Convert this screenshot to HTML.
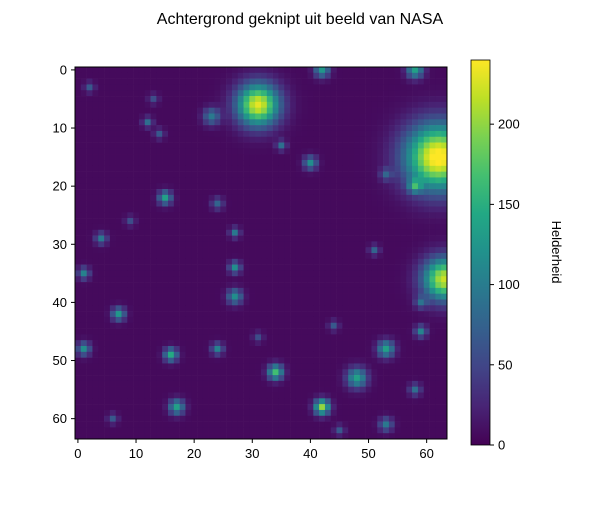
<!DOCTYPE html>
<html><head><meta charset="utf-8"><style>
body{margin:0;background:#fff;font-family:"Liberation Sans",sans-serif;}
svg text{font-family:"Liberation Sans",sans-serif;}
</style></head><body>
<svg id="chart" width="600" height="500">
<text x="300" y="24" text-anchor="middle" font-size="16">Achtergrond geknipt uit beeld van NASA</text>
<g id="cells"></g>
<rect x="75" y="67" width="372" height="372" fill="none" stroke="#000" stroke-width="1"/>
<g id="axes"></g>
<defs><linearGradient id="vir" x1="0" y1="1" x2="0" y2="0"></linearGradient></defs>
<rect x="471" y="60" width="19" height="385" fill="url(#vir)" stroke="#000" stroke-width="0.8"/>
<text transform="translate(552,252) rotate(90)" text-anchor="middle" font-size="13">Helderheid</text>
</svg>
<script>
const gridSize = 64;
const background = 6;
const maxValue = 240;
// sources: [row, col, peak, sigma]
const srcRows  = [6, 15, 36, 58, 52, 49, 48, 53, 42, 58, 22, 16, 0, 0, 34, 48, 35, 29, 9, 23, 28, 45, 48, 39, 61, 8, 3, 13, 11, 20, 31, 55, 60, 44, 26, 18, 40, 5, 62, 46];
const srcCols  = [31, 62, 63, 42, 34, 16, 53, 48, 7, 17, 15, 40, 42, 58, 27, 1, 1, 4, 12, 24, 27, 59, 24, 27, 53, 23, 2, 35, 14, 58, 51, 58, 6, 44, 9, 53, 59, 13, 45, 31];
const srcPeaks = [225, 245, 215, 195, 160, 140, 130, 130, 120, 130, 130, 110, 120, 130, 110, 110, 100, 90, 80, 70, 90, 100, 100, 110, 90, 90, 60, 80, 60, 100, 70, 80, 60, 60, 50, 60, 70, 50, 60, 50];
const srcSigma = [2.5, 3.9, 2.5, 0.9, 0.9, 0.8, 1.0, 1.2, 0.8, 0.9, 0.8, 0.8, 0.9, 1.0, 0.7, 0.8, 0.7, 0.7, 0.6, 0.7, 0.6, 0.7, 0.7, 0.9, 0.8, 1.0, 0.6, 0.6, 0.6, 0.8, 0.6, 0.7, 0.6, 0.6, 0.6, 0.7, 0.7, 0.6, 0.6, 0.6];
const xTicks = [0, 10, 20, 30, 40, 50, 60];
const yTicks = [0, 10, 20, 30, 40, 50, 60];
const cbTicks = [0, 50, 100, 150, 200];

const vStops = ["#440154","#482475","#414487","#355f8d","#2a788e","#21918c","#22a884","#44bf70","#7ad151","#bddf26","#fde725"];
function hex(c){return [1,3,5].map(i=>parseInt(c.substr(i,2),16));}
function viridis(t){t=Math.max(0,Math.min(1,t));const p=t*10,i=Math.min(9,Math.floor(p)),f=p-i;const a=hex(vStops[i]),b=hex(vStops[i+1]);return "rgb("+a.map((v,k)=>Math.round(v+(b[k]-v)*f)).join(",")+")";}

const X0=75,Y0=67,S=372/gridSize;
const xs=v=>X0+(v+0.5)*S, ys=v=>Y0+(v+0.5)*S;
const NS="http://www.w3.org/2000/svg";
const cells=document.getElementById('cells');
for(let r=0;r<gridSize;r++)for(let c=0;c<gridSize;c++){
  let v=background;
  for(let k=0;k<srcRows.length;k++){const d2=(r-srcRows[k])**2+(c-srcCols[k])**2;v+=srcPeaks[k]*Math.exp(-d2/(2*srcSigma[k]**2));}
  v=Math.min(maxValue,v);
  const el=document.createElementNS(NS,'rect');
  el.setAttribute('x',X0+c*S);el.setAttribute('y',Y0+r*S);el.setAttribute('width',S+0.3);el.setAttribute('height',S+0.3);
  el.setAttribute('fill',viridis(v/maxValue));
  
  
  cells.appendChild(el);
}
const ax=document.getElementById('axes');
function add(tag,attrs,txt){const e=document.createElementNS(NS,tag);for(const k in attrs)e.setAttribute(k,attrs[k]);if(txt!==undefined)e.textContent=txt;ax.appendChild(e);return e;}
xTicks.forEach(t=>{
  const l=add('line',{x1:xs(t),x2:xs(t),y1:439,y2:443,stroke:'#000'});
  
  
  const tx=add('text',{x:xs(t),y:458,'text-anchor':'middle','font-size':13},t);
  
  
});
yTicks.forEach(t=>{
  const l=add('line',{x1:71,x2:75,y1:ys(t),y2:ys(t),stroke:'#000'});
  
  
  const tx=add('text',{x:67,y:ys(t)+4.5,'text-anchor':'end','font-size':13},t);
  
  
});
const cbY=v=>445-v/maxValue*385;
cbTicks.forEach(t=>{
  const l=add('line',{x1:490,x2:494,y1:cbY(t),y2:cbY(t),stroke:'#000'});
  
  
  const tx=add('text',{x:498,y:cbY(t)+4.5,'font-size':13},t);
  
  
});
const g=document.getElementById('vir');
vStops.forEach((c,i)=>{const s=document.createElementNS(NS,'stop');s.setAttribute('offset',i/10);s.setAttribute('stop-color',c);g.appendChild(s);});
</script>
</body></html>
